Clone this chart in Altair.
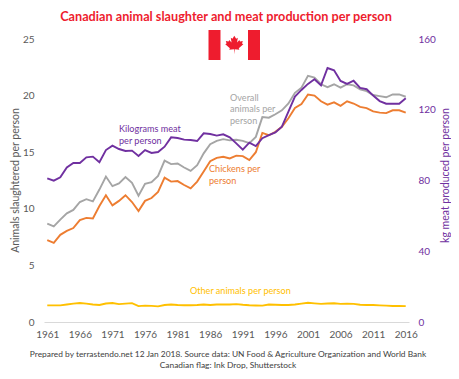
import altair as alt
import pandas as pd

years = list(range(1961, 2017))
chickens = [7.24,7.0,7.7,8.05,8.3,9.0,9.2,9.15,10.25,11.2,10.3,10.7,11.2,10.6,9.8,10.7,10.95,11.5,12.75,12.4,12.45,12.1,11.8,12.4,13.3,14.2,14.5,14.6,14.45,14.7,14.65,14.3,15.0,16.7,16.5,16.8,17.25,18.0,18.9,19.25,20.1,20.0,19.5,19.2,19.4,19.1,19.5,19.3,19.0,18.9,18.6,18.5,18.45,18.7,18.7,18.5]
overall = [8.7,8.45,9.05,9.6,9.9,10.6,10.85,10.65,11.7,12.85,12.0,12.25,12.8,12.3,11.15,12.2,12.35,12.9,14.25,13.95,14.0,13.65,13.35,13.85,14.9,15.7,16.0,16.15,16.05,16.1,16.0,15.8,16.35,18.1,18.05,18.35,18.7,19.3,20.25,20.7,21.75,21.6,21.0,20.75,21.0,20.7,21.0,20.9,20.55,20.4,20.05,19.95,19.85,20.1,20.1,19.9]
others = [1.47,1.47,1.47,1.55,1.62,1.68,1.62,1.55,1.5,1.63,1.68,1.58,1.62,1.67,1.4,1.45,1.42,1.38,1.5,1.55,1.5,1.48,1.48,1.5,1.55,1.5,1.55,1.55,1.55,1.58,1.52,1.48,1.46,1.45,1.55,1.52,1.5,1.5,1.55,1.62,1.7,1.65,1.6,1.63,1.65,1.6,1.62,1.6,1.52,1.5,1.5,1.47,1.45,1.42,1.42,1.4]
meat = [81.2,79.9,81.8,87.4,89.9,89.9,93.1,93.5,90.3,97.2,99.7,97.8,96.7,96.9,93.9,97.2,95.6,96.1,99.1,104.4,104.0,103.1,102.9,102.3,106.7,106.3,105.4,106.1,104.4,101.0,97.4,101.4,99.5,103.9,105.7,107.2,110.4,118.9,127.4,131.2,134.6,137.2,133.8,143.6,142.3,136.3,134.6,136.4,132.3,131.6,128.0,124.9,123.4,123.4,123.4,126.5]

left_ticks = [0, 5, 10, 15, 20, 25]
right_ticks = [0, 40, 80, 120, 160]
x_ticks = list(range(1961, 2017, 5))

TITLE = "Canadian animal slaughter and meat production per person"
LEFT_TITLE = "Animals slaughtered per person"
RIGHT_TITLE = "kg meat produced per person"
FOOT = ["Prepared by terrastendo.net 12 Jan 2018. Source data: UN Food & Agriculture Organization and World Bank",
        "Canadian flag: Ink Drop, Shutterstock"]

RED, GRAY, ORANGE, YELLOW, PURPLE, TXT = "#ee1c2e", "#a5a5a5", "#ed7d31", "#ffc000", "#7030a0", "#595959"
FONT = "Lato"
LEAF = ("M0,1 L0.04,0.45 L0.55,0.52 L0.48,0.34 L0.98,-0.08 L0.84,-0.16 L0.92,-0.44 L0.62,-0.38 L0.55,-0.54 "
        "L0.3,-0.27 L0.38,-0.78 L0.2,-0.68 L0,-1 L-0.2,-0.68 L-0.38,-0.78 L-0.3,-0.27 L-0.55,-0.54 L-0.62,-0.38 "
        "L-0.92,-0.44 L-0.84,-0.16 L-0.98,-0.08 L-0.48,0.34 L-0.55,0.52 L-0.04,0.45 Z")

df = pd.DataFrame({"year": years, "chickens": chickens, "overall": overall, "others": others, "meat": meat})
xs = alt.Scale(domain=[1960.5, 2016.5], nice=False, zero=False)
xax = alt.Axis(values=x_ticks, format="d", title=None, grid=False, ticks=False, domainColor="#d9d9d9",
               domainWidth=1.2, labelColor=TXT, labelFont=FONT, labelFontSize=10, labelPadding=7, labelFlush=False)
lax = alt.Axis(values=left_ticks, title=LEFT_TITLE, grid=False, ticks=False, domain=False, labelColor=TXT,
               labelFont=FONT, labelFontSize=10, labelPadding=10, titleColor=TXT, titleFont=FONT,
               titleFontSize=10.5, titleFontWeight="normal", titleX=-24, titleY=141, titleAngle=270)
rax = alt.Axis(values=right_ticks, title=RIGHT_TITLE, orient="right", grid=False, ticks=False, domain=False,
               labelColor=PURPLE, labelFont=FONT, labelFontSize=10, labelPadding=9, titleColor=PURPLE,
               titleFont=FONT, titleFontSize=10.5, titleFontWeight="normal", titleX=41, titleY=136, titleAngle=270)

ys = alt.Scale(domain=[0, 25], nice=False)
yr = alt.Scale(domain=[0, 160], nice=False)
base = alt.Chart(df)

def line(field, color, scale, axis):
    return base.mark_line(color=color, strokeWidth=1.9).encode(
        x=alt.X("year:Q", scale=xs, axis=xax),
        y=alt.Y(field + ":Q", scale=scale, axis=axis))

def txt(s, px, py, color, size=9.1, align="left", weight="normal"):
    return alt.Chart(pd.DataFrame({"t": [s]})).mark_text(
        color=color, fontSize=size, align=align, baseline="middle", font=FONT, fontWeight=weight
    ).encode(text="t:N", x=alt.value(px - 44), y=alt.value(py - 39))

def bar(x0, x1):
    return alt.Chart(pd.DataFrame({"k": [0]})).mark_rect(color=RED).encode(
        x=alt.value(x0 - 44), x2=alt.value(x1 - 44), y=alt.value(30 - 39), y2=alt.value(60 - 39))

notes = [txt(TITLE, 226, 17, RED, 12.7, "center", "bold"),
         txt("Kilograms meat", 119, 129, PURPLE), txt("per person", 119, 141, PURPLE),
         txt("Overall", 230, 98, GRAY), txt("animals per", 230, 109, GRAY), txt("person", 230, 121, GRAY),
         txt("Chickens per", 209, 169, ORANGE), txt("person", 209, 181, ORANGE),
         txt("Other animals per person", 190, 291, YELLOW),
         txt(FOOT[0], 228, 354, "#404040", 8.4, "center"), txt(FOOT[1], 228, 365, "#404040", 8.4, "center"),
         bar(208.5, 220.5), bar(248, 260),
         alt.Chart(pd.DataFrame({"k": [0]})).mark_point(shape=LEAF, size=340, color=RED, filled=True, opacity=1).encode(
             x=alt.value(234.3 - 44), y=alt.value(45 - 39))]

chart = alt.layer(
    line("overall", GRAY, ys, lax),
    line("chickens", ORANGE, ys, None),
    line("others", YELLOW, ys, None),
    line("meat", PURPLE, yr, rax),
    *notes
).resolve_scale(y="independent").properties(
    width=365, height=283,
    autosize=alt.AutoSizeParams(type="none"),
    padding={"left": 36, "top": 31, "right": 42, "bottom": 49},
).configure_view(stroke=None)

chart.save("out.html", embed_options={"renderer": "svg", "actions": False})
